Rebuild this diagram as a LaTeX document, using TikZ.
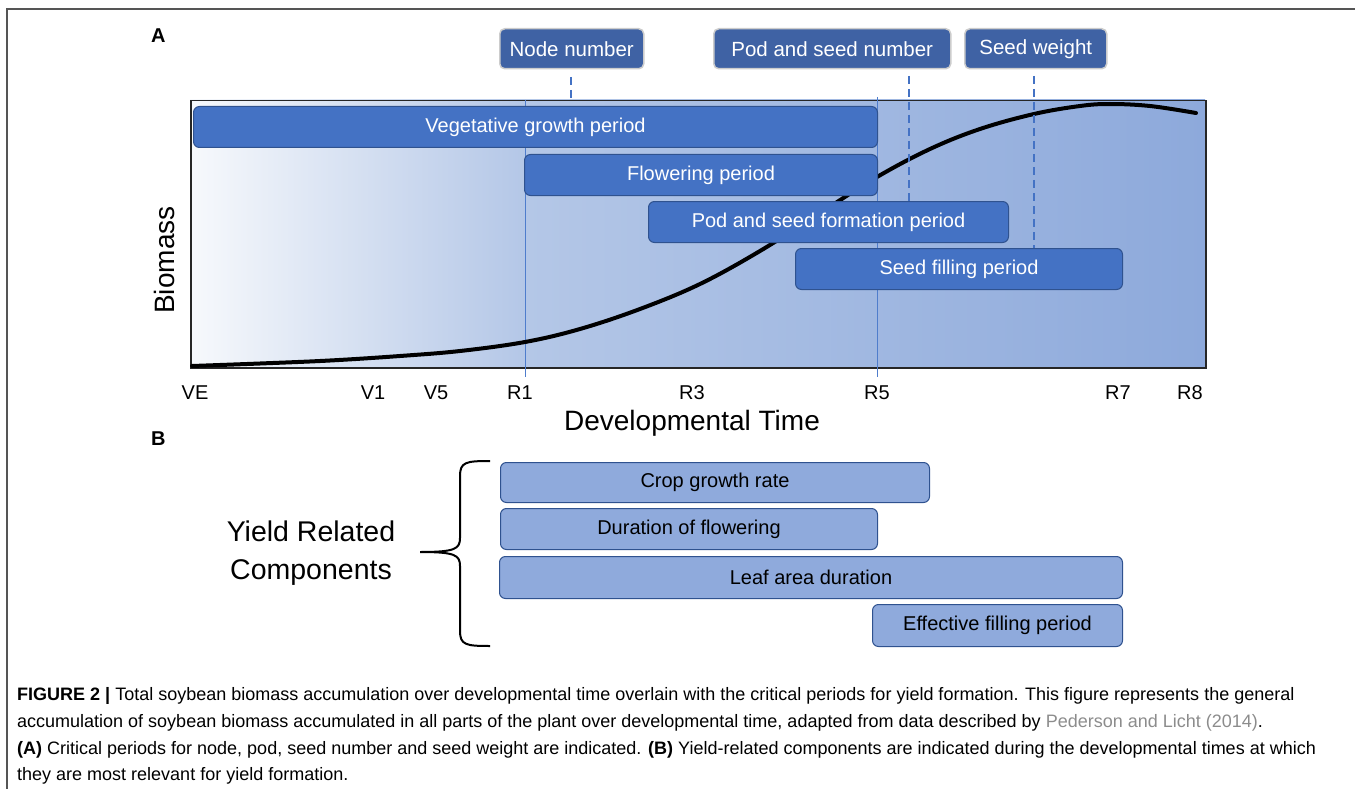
\documentclass[tikz,border=0pt]{standalone}
\usepackage{fontspec}
\setmainfont{Liberation Sans}
\usetikzlibrary{calc}
\definecolor{barblue}{HTML}{4472C4}
\definecolor{barline}{HTML}{2F528F}
\definecolor{lblblue}{HTML}{3F62A4}
\definecolor{lightbar}{HTML}{8FAADC}
\definecolor{gA}{HTML}{F7F9FC}
\definecolor{gB}{HTML}{B4C7E7}
\definecolor{gC}{HTML}{8DA9DB}
\definecolor{vline}{HTML}{4F7DCC}
\definecolor{citegray}{HTML}{8C8C8C}
\definecolor{framegray}{HTML}{555555}
\tikzset{
  darkbar/.style={draw=barline, fill=barblue, rounded corners=6pt, line width=1pt,
    text=white, font=\fontsize{20}{24}\selectfont, inner sep=0pt, anchor=north west},
  lightbox/.style={draw=barline, fill=lightbar, rounded corners=6pt, line width=1pt,
    text=black, font=\fontsize{20}{24}\selectfont, inner sep=0pt, anchor=north west},
  topbox/.style={draw=black!20, fill=lblblue, rounded corners=5pt, line width=1.5pt,
    text=white, font=\fontsize{20.5}{24}\selectfont, inner sep=0pt, anchor=north west},
  marker/.style={draw=barblue, dash pattern=on 8pt off 5pt, line width=2pt},
  stageline/.style={draw=vline, line width=1pt},
  ticklbl/.style={font=\fontsize{20}{24}\selectfont, anchor=base, inner sep=0pt},
  biglbl/.style={font=\fontsize{28}{32}\selectfont, inner sep=0pt},
  panel/.style={font=\bfseries\fontsize{20}{24}\selectfont, anchor=base west, inner sep=0pt},
  capline/.style={font=\fontsize{18}{22}\selectfont, anchor=base west, inner sep=0pt},
}
\begin{document}
\begin{tikzpicture}[x=1pt,y=-1pt]
\useasboundingbox (0,0) rectangle (1355,789);
% outer frame
\draw[framegray, line width=1.5pt] (7,789) -- (7,9) -- (1355,9);
% panel labels
\node[panel] (pA) at (151,43) {A};
\node[panel] (pB) at (151,445) {B};
% chart background
\shade[left color=gA, right color=gB] (190,100) rectangle (525,367);
\shade[left color=gB, right color=gC] (525,100) rectangle (1205,367);
\node[draw=black!85, line width=1.5pt, inner sep=0pt, anchor=north west,
      minimum width=1015pt, minimum height=267pt] (chart) at (190,100) {};
% stage lines
\coordinate (r1top) at (525,100);
\coordinate (r1bot) at (525,377);
\coordinate (r5top) at (877,97);
\coordinate (r5bot) at (877,377);
\draw[stageline] (r1top) -- (r1bot);
\draw[stageline] (r5top) -- (r5bot);
% biomass curve
\draw[line width=4pt, line cap=round] plot[smooth, tension=0.6] coordinates {
 (192,366) (260,363.5) (330,360.5) (400,356) (460,351) (525,342) (580,329)
 (640,309) (700,284) (760,251) (820,213) (877,177) (930,149) (980,129)
 (1034,114) (1080,106) (1110,104) (1150,106) (1196,113)};
% period bars
\node[darkbar, minimum width=684pt, minimum height=41pt] (veg) at (193,106) {Vegetative growth period};
\node[darkbar, minimum width=353pt, minimum height=41pt] (flow) at (524,154) {Flowering period};
\node[darkbar, minimum width=360pt, minimum height=41pt] (podf) at (648,201) {Pod and seed formation period};
\node[darkbar, minimum width=327pt, minimum height=41pt] (fill) at (795,248) {Seed filling period};
% top label boxes
\node[topbox, minimum width=144pt, minimum height=40pt] (nn) at (499,28) {Node number};
\node[topbox, minimum width=237pt, minimum height=40pt] (psn) at (713,28) {Pod and seed number};
\node[topbox, minimum width=142pt, minimum height=40pt] (sw) at (964,28) {Seed weight};
% dashed markers
\coordinate (m1a) at (571,77);
\coordinate (m2a) at (909,76);
\coordinate (m3a) at (1034,76);
\draw[marker] (m1a) -- (m1a |- chart.north);
\draw[marker] (m2a) -- (m2a |- podf.north);
\draw[marker] (m3a) -- (m3a |- fill.north);
% axis labels
\node[ticklbl] (tVE) at (195,399) {VE};
\node[ticklbl] (tV1) at (373,399) {V1};
\node[ticklbl] (tV5) at (436,399) {V5};
\node[ticklbl] (tR1) at (520,399) {R1};
\node[ticklbl] (tR3) at (692,399) {R3};
\node[ticklbl] (tR5) at (877,399) {R5};
\node[ticklbl] (tR7) at (1118,399) {R7};
\node[ticklbl] (tR8) at (1190,399) {R8};
\node[biglbl, anchor=base] (xl) at (692,430) {Developmental Time};
\node[biglbl, rotate=90] (yl) at (164,260) {Biomass};
% panel B
\node[biglbl, align=center, font=\fontsize{28.5}{38}\selectfont] (yrc) at (311,553) {Yield Related\\Components};
\draw[line width=2pt] (490,461) .. controls (466,461) and (460,462) .. (460,476)
  -- (460,538) .. controls (460,549) and (455,552) .. (420,552)
  .. controls (455,552) and (460,555) .. (460,566)
  -- (460,631) .. controls (460,645) and (466,646) .. (490,646);
\node[lightbox, minimum width=429pt, minimum height=40pt] (cgr) at (500,462) {Crop growth rate};
\node[lightbox, minimum width=377pt, minimum height=41pt] (dof) at (500,508) {Duration of flowering};
\node[lightbox, minimum width=623pt, minimum height=42pt] (lad) at (499,556) {Leaf area duration};
\node[lightbox, minimum width=250pt, minimum height=42pt] (efp) at (872,604) {Effective filling period};
% caption
\node[capline] (c1) at (17,700) {\textbf{FIGURE 2 |} Total soybean biomass accumulation over developmental time overlain with the critical periods for yield formation. This figure represents the general};
\node[capline] (c2) at (17,727) {accumulation of soybean biomass accumulated in all parts of the plant over developmental time, adapted from data described by {\color{citegray}Pederson and Licht (2014)}.};
\node[capline] (c3) at (17,754) {\textbf{(A)} Critical periods for node, pod, seed number and seed weight are indicated. \textbf{(B)} Yield-related components are indicated during the developmental times at which};
\node[capline] (c4) at (17,780) {they are most relevant for yield formation.};
\end{tikzpicture}
\end{document}
